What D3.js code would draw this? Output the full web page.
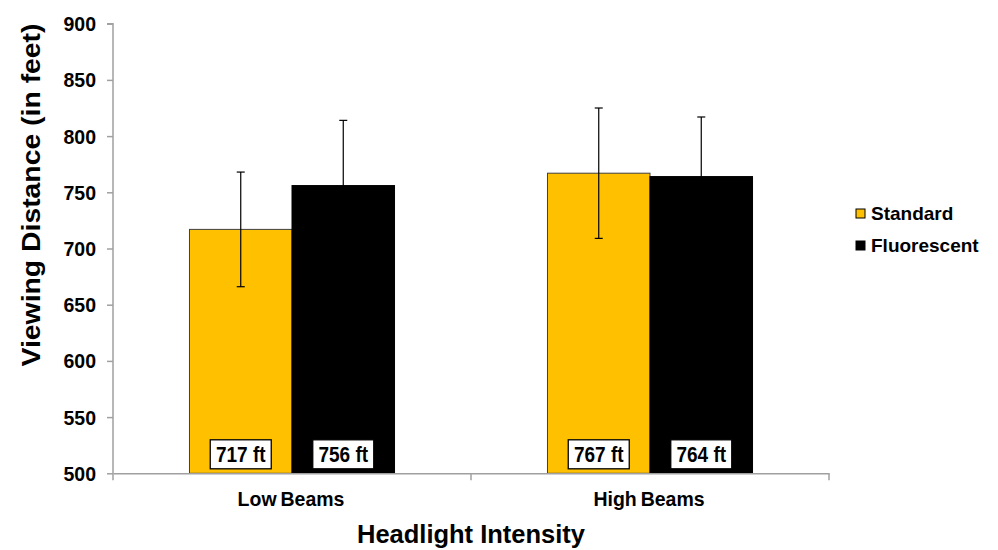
<!DOCTYPE html>
<html>
<head>
<meta charset="utf-8">
<script src="https://cdn.jsdelivr.net/npm/d3@7"></script>
<style>
  html, body { margin: 0; padding: 0; background: #fff; }
  svg text { font-family: Arial, "Liberation Sans", sans-serif; font-weight: bold; fill: #000; }
</style>
</head>
<body>
<svg id="chart" width="998" height="550"></svg>
<script>
const categories = ["Low Beams", "High Beams"];
const seriesNames = ["Standard", "Fluorescent"];
const standardValues = [717, 767];
const fluorescentValues = [756, 764];
const standardErrors = [51, 58];
const fluorescentErrors = [58, 53];
const yTicks = [500, 550, 600, 650, 700, 750, 800, 850, 900];
const seriesColors = ["#FFC000", "#000000"];

const svg = d3.select("#chart");
const plotLeft = 113, plotRight = 829, plotTop = 23.7, plotBottom = 473.3;

const x = d3.scaleBand().domain(categories).range([plotLeft, plotRight]).paddingInner(0).paddingOuter(0);
const xs = d3.scaleBand().domain(seriesNames).range([0, x.bandwidth()]).paddingInner(0).paddingOuter(0.746);
const y = d3.scaleLinear().domain([500, 900]).range([plotBottom, plotTop]);

const data = [];
categories.forEach((c, i) => {
  data.push({cat: c, ser: "Standard", v: standardValues[i], e: standardErrors[i], color: seriesColors[0]});
  data.push({cat: c, ser: "Fluorescent", v: fluorescentValues[i], e: fluorescentErrors[i], color: seriesColors[1]});
});

// bars
svg.append("g").selectAll("rect").data(data).enter().append("rect")
  .attr("x", d => x(d.cat) + xs(d.ser))
  .attr("y", d => y(d.v))
  .attr("width", xs.bandwidth())
  .attr("height", d => y(500) - y(d.v))
  .attr("fill", d => d.color)
  .attr("stroke", d => d.ser === "Standard" ? "#404040" : "#000")
  .attr("stroke-width", 1);

// error bars
const eb = svg.append("g").attr("stroke", "#000").attr("stroke-width", 1.2);
data.forEach(d => {
  const cx = x(d.cat) + xs(d.ser) + xs.bandwidth() / 2;
  eb.append("line").attr("x1", cx).attr("x2", cx).attr("y1", y(d.v + d.e)).attr("y2", y(d.v - d.e));
  eb.append("line").attr("x1", cx - 4).attr("x2", cx + 4).attr("y1", y(d.v + d.e)).attr("y2", y(d.v + d.e));
  eb.append("line").attr("x1", cx - 4).attr("x2", cx + 4).attr("y1", y(d.v - d.e)).attr("y2", y(d.v - d.e));
});

// data labels
const lbl = svg.append("g");
data.forEach(d => {
  const cx = x(d.cat) + xs(d.ser) + xs.bandwidth() / 2;
  lbl.append("rect").attr("x", cx - 30.5).attr("y", y(500) - 33.5).attr("width", 61).attr("height", 29)
    .attr("fill", "#fff").attr("stroke", "#000").attr("stroke-width", 1.3);
  lbl.append("text").attr("transform", `translate(${cx},${y(500) - 11.5}) scale(1,1.15)`)
    .attr("text-anchor", "middle").attr("font-size", 19).text(d.v + " ft");
});

// y axis
const yAxis = d3.axisLeft(y).tickValues(yTicks).tickSize(6).tickPadding(11).tickFormat(d3.format("d"));
const yg = svg.append("g").attr("transform", `translate(${plotLeft},0)`).call(yAxis);
yg.select(".domain").attr("stroke", "#A0A0A0").attr("stroke-width", 1.5).attr("d", `M-6,${plotTop}H0V${plotBottom}`);
yg.selectAll(".tick line").attr("stroke", "#A0A0A0").attr("stroke-width", 1.5);
yg.selectAll(".tick text").attr("font-size", 19.5).attr("font-family", "Arial, 'Liberation Sans', sans-serif")
  .attr("font-weight", "bold").attr("fill", "#000").attr("dy", "0.36em");

// x axis
const xAxis = d3.axisBottom(x).tickValues([]).tickSizeOuter(0);
const xg = svg.append("g").attr("transform", `translate(0,${plotBottom})`).call(xAxis);
xg.select(".domain").attr("stroke", "#A0A0A0").attr("stroke-width", 1.5);
const bounds = [plotLeft, plotRight].concat(categories.slice(1).map(c => x(c)));
xg.selectAll(".bt").data(bounds).enter().append("line").attr("class", "bt")
  .attr("x1", d => d).attr("x2", d => d).attr("y1", 0).attr("y2", 7)
  .attr("stroke", "#A0A0A0").attr("stroke-width", 1.5);
xg.selectAll(".cl").data(categories).enter().append("text").attr("class", "cl")
  .attr("transform", d => `translate(${x(d) + x.bandwidth() / 2 - 1},${506 - plotBottom}) scale(1,1.08)`)
  .attr("text-anchor", "middle").attr("font-size", 19.5).attr("font-family", "Arial, 'Liberation Sans', sans-serif")
  .attr("font-weight", "bold").attr("fill", "#000").attr("word-spacing", "-1.5px").text(d => d);

// axis titles
svg.append("text").attr("x", 471).attr("y", 543).attr("text-anchor", "middle").attr("font-size", 26.5)
  .attr("textLength", 228).attr("lengthAdjust", "spacingAndGlyphs").text("Headlight  Intensity");
svg.append("text").attr("transform", "translate(40,195) rotate(-90)").attr("text-anchor", "middle")
  .attr("font-size", 26).attr("textLength", 343).attr("lengthAdjust", "spacingAndGlyphs")
  .text("Viewing  Distance (in feet)");

// legend
const lg = svg.append("g");
seriesNames.forEach((s, i) => {
  const yy = 209 + i * 32;
  lg.append("rect").attr("x", 856).attr("y", yy).attr("width", 9).attr("height", 9)
    .attr("fill", seriesColors[i]).attr("stroke", "#000").attr("stroke-width", 1);
  lg.append("text").attr("x", 871).attr("y", yy + 10.5).attr("font-size", 19).text(s);
});
</script>
</body>
</html>
